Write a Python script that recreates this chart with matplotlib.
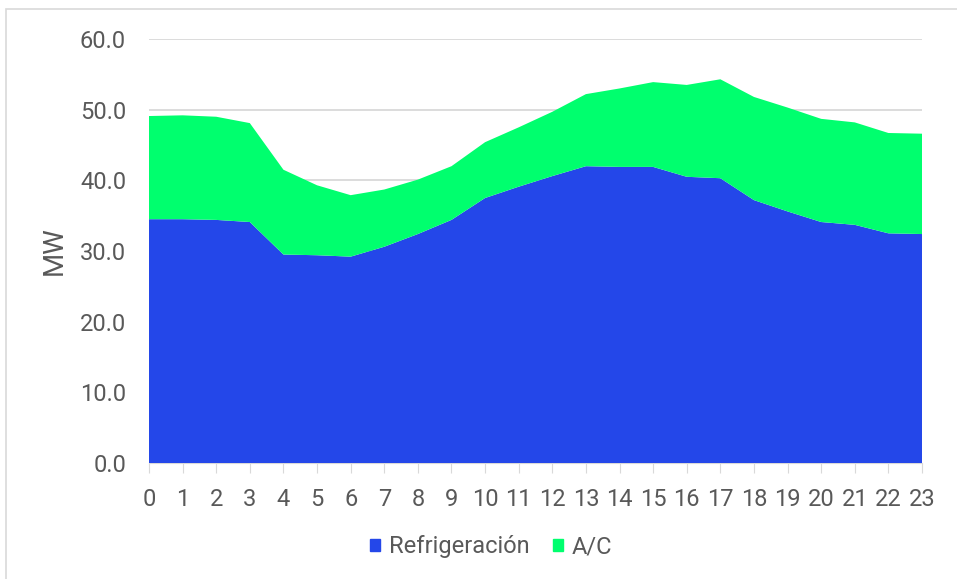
import matplotlib
matplotlib.use("Agg")
import matplotlib.pyplot as plt
from matplotlib.patches import Rectangle, Patch

plt.rcParams['font.family'] = ['Roboto', 'DejaVu Sans']

# Hourly load (MW)
hours = list(range(24))
refrigeracion = [34.5, 34.5, 34.4, 34.1, 29.5, 29.4, 29.2, 30.6, 32.4, 34.4, 37.5, 39.1,
                 40.6, 42.0, 41.9, 41.9, 40.5, 40.3, 37.2, 35.6, 34.1, 33.7, 32.5, 32.4]
total = [49.1, 49.2, 49.0, 48.1, 41.5, 39.3, 37.9, 38.7, 40.1, 42.0, 45.4, 47.5,
         49.7, 52.2, 53.0, 53.9, 53.5, 54.3, 51.8, 50.3, 48.7, 48.2, 46.7, 46.6]
ac = [t - r for t, r in zip(total, refrigeracion)]

blue = "#2447E9"
green = "#00FF6E"
grey = "#595959"

fig = plt.figure(figsize=(9.57, 5.79), dpi=100)
fig.patches.append(Rectangle((6 / 957, -0.1), 1.2, 1 - 9 / 579 + 0.1,
                             transform=fig.transFigure, fill=False,
                             edgecolor="#D9D9D9", linewidth=1.2))

ax = fig.add_axes([149 / 957, (579 - 463) / 579, (922 - 149) / 957, (463 - 39) / 579])
ax.stackplot(hours, refrigeracion, ac, colors=[blue, green], linewidth=0)

ax.set_xlim(0, 23)
ax.set_ylim(0, 60)
ax.set_yticks(range(0, 61, 10))
ax.set_yticklabels([f"{v:.1f}" for v in range(0, 61, 10)])
ax.set_xticks(hours)

ax.grid(axis="y", color="#D9D9D9", linewidth=1.3)
ax.set_axisbelow(True)
for s in ["top", "right", "left"]:
    ax.spines[s].set_visible(False)
ax.spines["bottom"].set_color("#D9D9D9")
ax.spines["bottom"].set_zorder(0)

ax.tick_params(axis="y", length=0, pad=16.5, labelsize=17, labelcolor=grey)
ax.tick_params(axis="x", length=7, color="#D9D9D9", pad=11, labelsize=17, labelcolor=grey)

ax.set_ylabel("MW", fontsize=20, color=grey, labelpad=9)

handles = [Patch(color=blue, label="Refrigeración"), Patch(color=green, label="A/C")]
fig.legend(handles=handles, loc="center", bbox_to_anchor=(491 / 957, 1 - 547 / 579),
           ncol=2, frameon=False, fontsize=17, labelcolor=grey,
           handlelength=0.45, handleheight=0.45, handletextpad=0.35, columnspacing=1.0)

fig.savefig("out.png", dpi=100)
